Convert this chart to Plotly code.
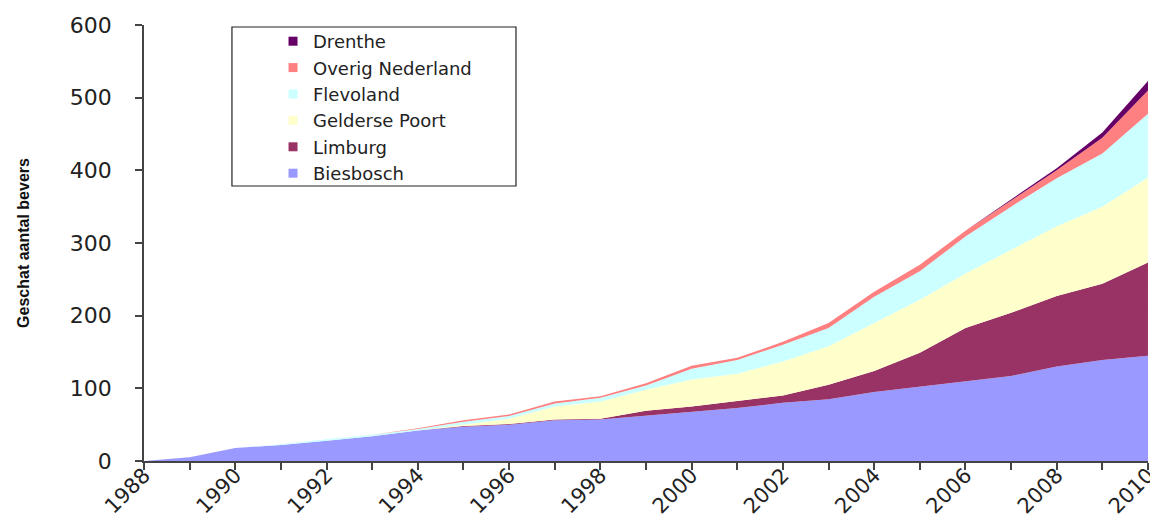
import plotly.graph_objects as go

years = list(range(1988, 2011))
biesbosch = [0, 5, 18, 22, 28, 34, 42, 47, 50, 56, 57, 62, 67, 73, 80, 85, 95, 102, 109, 117, 130, 139, 145]
limburg = [0, 0, 0, 0, 0, 0, 0, 1, 1, 1, 1, 7, 8, 9, 10, 20, 29, 47, 74, 87, 97, 105, 128]
gelderse_poort = [0, 0, 0, 0, 0, 0, 0, 2, 7, 18, 24, 29, 37, 38, 47, 53, 66, 73, 75, 86, 96, 106, 117]
flevoland = [0, 0, 0, 1, 2, 2, 2, 4, 4, 4, 5, 6, 15, 19, 23, 25, 36, 39, 51, 60, 66, 73, 88]
overig_nederland = [0, 0, 0, 0, 0, 0, 1, 2, 2, 3, 2, 3, 4, 3, 4, 7, 7, 9, 8, 9, 11, 22, 32]
drenthe = [0, 0, 0, 0, 0, 0, 0, 0, 0, 0, 0, 0, 0, 0, 0, 0, 0, 0, 0, 1, 3, 7, 13]

series = [
    ("Biesbosch", biesbosch, "#9999FF"),
    ("Limburg", limburg, "#993366"),
    ("Gelderse Poort", gelderse_poort, "#FFFFCC"),
    ("Flevoland", flevoland, "#CCFFFF"),
    ("Overig Nederland", overig_nederland, "#FF8080"),
    ("Drenthe", drenthe, "#660066"),
]

fig = go.Figure()
for name, vals, color in series:
    fig.add_trace(go.Scatter(
        x=years, y=vals, name=name, stackgroup="one", mode="lines",
        line=dict(width=0, color=color), fillcolor=color, showlegend=False,
    ))
# legend keys (small squares)
for name, vals, color in reversed(series):
    fig.add_trace(go.Scatter(
        x=[None], y=[None], name=name, mode="markers",
        marker=dict(symbol="square", size=9, color=color), showlegend=True,
    ))

tickfont = dict(family="DejaVu Sans", size=22, color="#222222")
xtickfont = dict(family="DejaVu Sans", size=21, color="#222222")

fig.update_layout(
    width=1150, height=507,
    margin=dict(l=136, r=10, t=17, b=54, autoexpand=False),
    paper_bgcolor="white", plot_bgcolor="white",
    showlegend=True,
    legend=dict(
        x=0.1285, y=1.0046, xanchor="left", yanchor="top",
        bgcolor="rgba(0,0,0,0)", borderwidth=0,
        font=dict(family="DejaVu Sans", size=18, color="#222222"),
        traceorder="normal",
    ),
    shapes=[dict(
        type="rect", xref="paper", yref="paper",
        x0=0.0876, x1=0.3705, y0=0.6307, y1=0.9954,
        line=dict(color="#222222", width=1.2), fillcolor="rgba(0,0,0,0)",
    )],
    xaxis=dict(
        range=[1988, 2010.0005], tickmode="array",
        tickvals=list(range(1988, 2011, 2)),
        ticktext=[str(y) for y in range(1988, 2011, 2)],
        tickangle=-45, tickfont=xtickfont, automargin=False,
        ticklabeloverflow="allow", ticklabelstandoff=-15,
        ticks="outside", ticklen=7, tickcolor="#444444", tickwidth=1.5,
        minor=dict(dtick=1, tick0=1988, ticks="outside", ticklen=7, tickcolor="#444444", tickwidth=1.5),
        showline=True, linecolor="#444444", linewidth=1.5,
        showgrid=False, zeroline=False, fixedrange=True,
    ),
    yaxis=dict(
        range=[0, 600], dtick=100, tickfont=tickfont, automargin=False,
        ticks="outside", ticklen=7, tickcolor="#444444", tickwidth=1.5,
        ticklabelstandoff=19,
        showline=True, linecolor="#444444", linewidth=1.5,
        showgrid=False, zeroline=False,
        title=dict(
            text="<b>Geschat aantal bevers</b>",
            font=dict(family="Liberation Sans, Arial, sans-serif", size=16, color="#111111"),
            standoff=36,
        ),
    ),
)

fig.write_html("out.html")
